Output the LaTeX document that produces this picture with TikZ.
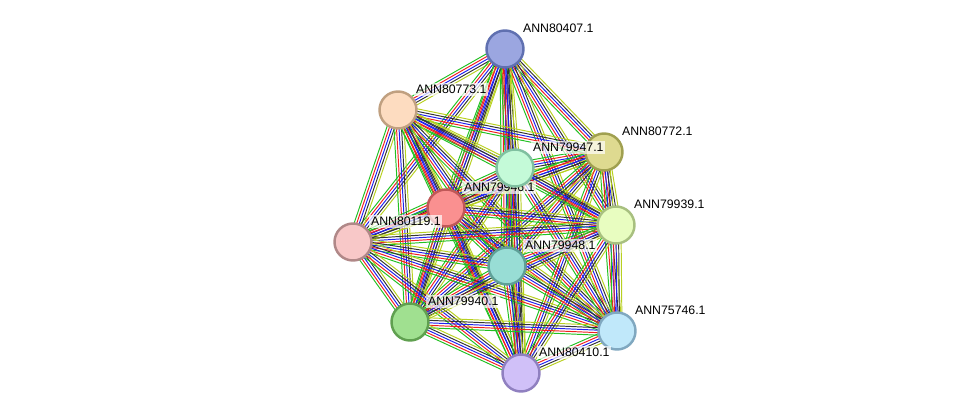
\documentclass[tikz,border=0pt]{standalone}
\usepackage{fontspec}
\setsansfont{Liberation Sans}
\usepackage{tikz}
\usetikzlibrary{positioning,calc}
\definecolor{eGreen}{HTML}{22C022}
\definecolor{eRed}{HTML}{F02020}
\definecolor{eBlue}{HTML}{2020F0}
\definecolor{eBlack}{HTML}{333333}
\definecolor{eOlive}{HTML}{B8D020}
\tikzset{
  prot/.style={circle, minimum size=0.74cm, line width=1.4pt, inner sep=0pt},
  plabel/.style={anchor=south west, inner sep=1pt, font=\fontsize{7}{8}\sffamily, fill=white, fill opacity=0.7, text opacity=1},
  edge/.style={line width=0.55pt}
}
\begin{document}
\begin{tikzpicture}[x=0.02cm, y=-0.02cm]
  \useasboundingbox (0,0) rectangle (975,419);
  % proteins
  \coordinate (p1) at (505,49);
  \coordinate (p2) at (398,110);
  \coordinate (p3) at (604,152);
  \coordinate (p4) at (515,168);
  \coordinate (p5) at (446,208);
  \coordinate (p6) at (353,242);
  \coordinate (p7) at (616,225);
  \coordinate (p8) at (507,266);
  \coordinate (p9) at (410,322);
  \coordinate (p10) at (617,331);
  \coordinate (p11) at (521,373);
  % edges
  \foreach \i in {1,...,11} {
    \foreach \j in {\i,...,11} {
      \ifnum\i<\j
        \foreach \o/\c in {-0.1/eGreen,-0.05/eRed,0/eBlue,0.05/eBlack,0.1/eOlive} {
          \draw[edge, \c] ($(p\i)!\o cm!90:(p\j)$) -- ($(p\j)!\o cm!-90:(p\i)$);
        }
      \fi
    }
  }
  % nodes
  \node[prot, fill={rgb,255:red,155;green,166;blue,224}, draw={rgb,255:red,96;green,112;blue,176}] (n80407) at (p1) {};
  \node[prot, fill={rgb,255:red,253;green,220;blue,192}, draw={rgb,255:red,192;green,160;blue,128}] (n80773) at (p2) {};
  \node[prot, fill={rgb,255:red,222;green,218;blue,144}, draw={rgb,255:red,160;green,160;blue,80}] (n80772) at (p3) {};
  \node[prot, fill={rgb,255:red,250;green,144;blue,144}, draw={rgb,255:red,192;green,88;blue,88}] (n79946) at (p5) {};
  \node[prot, fill={rgb,255:red,248;green,200;blue,200}, draw={rgb,255:red,176;green,136;blue,136}] (n80119) at (p6) {};
  \node[prot, fill={rgb,255:red,232;green,253;blue,192}, draw={rgb,255:red,168;green,192;blue,128}] (n79939) at (p7) {};
  \node[prot, fill={rgb,255:red,152;green,221;blue,213}, draw={rgb,255:red,95;green,160;blue,152}] (n79948) at (p8) {};
  \node[prot, fill={rgb,255:red,160;green,224;blue,144}, draw={rgb,255:red,96;green,160;blue,80}] (n79940) at (p9) {};
  \node[prot, fill={rgb,255:red,192;green,232;blue,250}, draw={rgb,255:red,128;green,168;blue,192}] (n75746) at (p10) {};
  \node[prot, fill={rgb,255:red,208;green,192;blue,248}, draw={rgb,255:red,144;green,128;blue,192}] (n80410) at (p11) {};
  % labels
  \node[plabel] at ($(n80407.center)+(16,-14)$) {ANN80407.1};
  \node[plabel] at ($(n80773.center)+(16,-14)$) {ANN80773.1};
  \node[plabel] at ($(n80772.center)+(16,-14)$) {ANN80772.1};
  \node[plabel] at ($(n79946.center)+(16,-14)$) {ANN79946.1};
  \node[prot, fill={rgb,255:red,196;green,250;blue,216}, draw={rgb,255:red,128;green,192;blue,160}] (n79947) at (p4) {};
  \node[plabel] at ($(n79947.center)+(16,-14)$) {ANN79947.1};
  \node[plabel] at ($(n80119.center)+(16,-14)$) {ANN80119.1};
  \node[plabel] at ($(n79939.center)+(16,-14)$) {ANN79939.1};
  \node[plabel] at ($(n79948.center)+(16,-14)$) {ANN79948.1};
  \node[plabel] at ($(n79940.center)+(16,-14)$) {ANN79940.1};
  \node[plabel] at ($(n75746.center)+(16,-14)$) {ANN75746.1};
  \node[plabel] at ($(n80410.center)+(16,-14)$) {ANN80410.1};
\end{tikzpicture}
\end{document}
